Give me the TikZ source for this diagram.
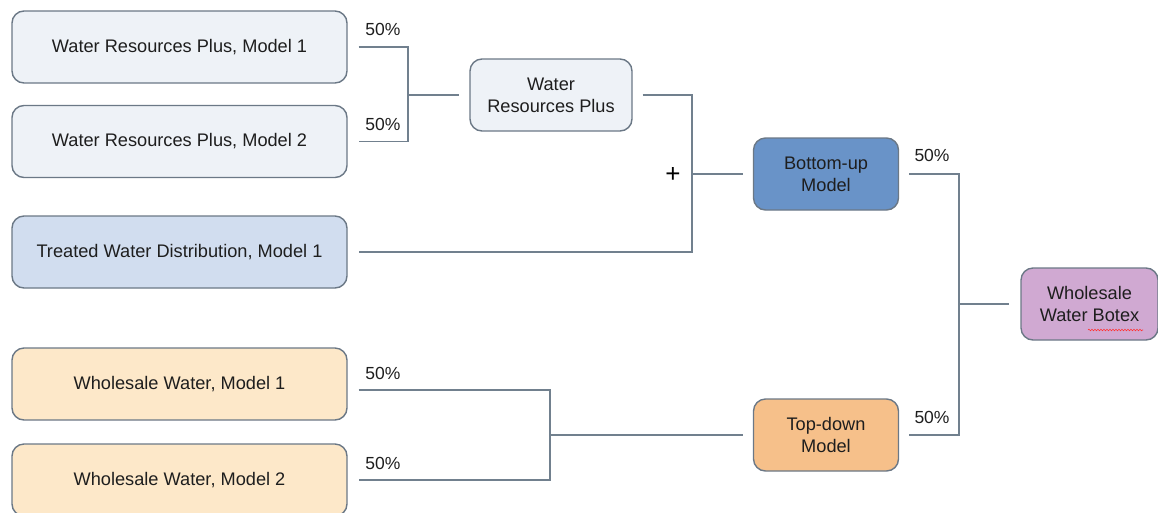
\documentclass[tikz,border=0pt]{standalone}
\usepackage{fontspec}
\setmainfont{Liberation Sans}
\usetikzlibrary{decorations.pathmorphing}
\definecolor{edge}{HTML}{6B7886}
\definecolor{wire}{HTML}{71808E}
\definecolor{paleblue}{HTML}{EEF2F7}
\definecolor{treated}{HTML}{D1DDEF}
\definecolor{paleorange}{HTML}{FDE8C9}
\definecolor{bottomup}{HTML}{6993C8}
\definecolor{topdown}{HTML}{F6C08A}
\definecolor{botex}{HTML}{D0A9D2}
\definecolor{txt}{HTML}{1E1E1E}
\begin{document}
\begin{tikzpicture}[x=1pt,y=-1pt,
  box/.style={draw=edge,line width=1.4pt,rounded corners=12pt,align=center,
    font=\fontsize{18.2}{22}\selectfont,text=txt,inner sep=0pt},
  wide/.style={box,minimum width=335pt,minimum height=72pt},
  mid/.style={box,minimum width=145pt,minimum height=72pt},
  wire/.style={draw=wire,line width=1.8pt},
  pct/.style={font=\fontsize{17.5}{18}\selectfont,text=txt,inner sep=0pt}]
\useasboundingbox (0,0) rectangle (1158,512);

% input models
\node[wide,fill=paleblue]   (wrp1) at (179.5,47)  {Water Resources Plus, Model 1};
\node[wide,fill=paleblue]   (wrp2) at (179.5,141.5) {Water Resources Plus, Model 2};
\node[wide,fill=treated]    (twd)  at (179.5,252) {Treated Water Distribution, Model 1};
\node[wide,fill=paleorange] (ww1)  at (179.5,384) {Wholesale Water, Model 1};
\node[wide,fill=paleorange] (ww2)  at (179.5,480) {Wholesale Water, Model 2};

% intermediate and final models
\node[box,fill=paleblue,minimum width=162pt,minimum height=72pt] (wrp) at (551,95) {Water\\Resources Plus};
\node[mid,fill=bottomup] (bu) at (826,174) {Bottom-up\\Model};
\node[mid,fill=topdown]  (td) at (826,435) {Top-down\\Model};
\node[box,fill=botex,minimum width=137pt,minimum height=72pt] (wwb) at (1089.5,304) {Wholesale\\Water Botex};
\draw[red!80,line width=0.6pt,decorate,decoration={snake,amplitude=0.8pt,segment length=3pt}]
  (1088,330) -- (1143,330);

% junction points
\coordinate (j1) at (408,95);
\coordinate (j2) at (692,174);
\coordinate (j3) at (550,435);
\coordinate (j4) at (959,304);

% Water Resources Plus blend
\draw[wire] ([xshift=11pt]wrp1.east) -| (j1) |- ([xshift=11pt]wrp2.east);
\draw[wire] (j1) -- ([xshift=-10pt]wrp.west);
\node[pct] (p1) at (383,29)  {50\%};
\node[pct] (p2) at (383,124) {50\%};

% bottom-up sum
\draw[wire] ([xshift=10pt]wrp.east) -| (j2) |- ([xshift=11pt]twd.east);
\draw[wire] (j2) -- ([xshift=-10pt]bu.west);
\node[font=\fontsize{26}{26}\selectfont,inner sep=0pt] (plus) at (673,175) {+};

% top-down blend
\draw[wire] ([xshift=11pt,yshift=-6pt]ww1.east) -| (j3) |- ([xshift=11pt]ww2.east);
\draw[wire] (j3) -- ([xshift=-10pt]td.west);
\node[pct] (p3) at (383,373) {50\%};
\node[pct] (p4) at (383,463) {50\%};

% final blend
\draw[wire] ([xshift=10pt]bu.east) -| (j4) |- ([xshift=10pt]td.east);
\draw[wire] (j4) -- ([xshift=-11pt]wwb.west);
\node[pct] (p5) at (932,155) {50\%};
\node[pct] (p6) at (932,417) {50\%};
\end{tikzpicture}
\end{document}
